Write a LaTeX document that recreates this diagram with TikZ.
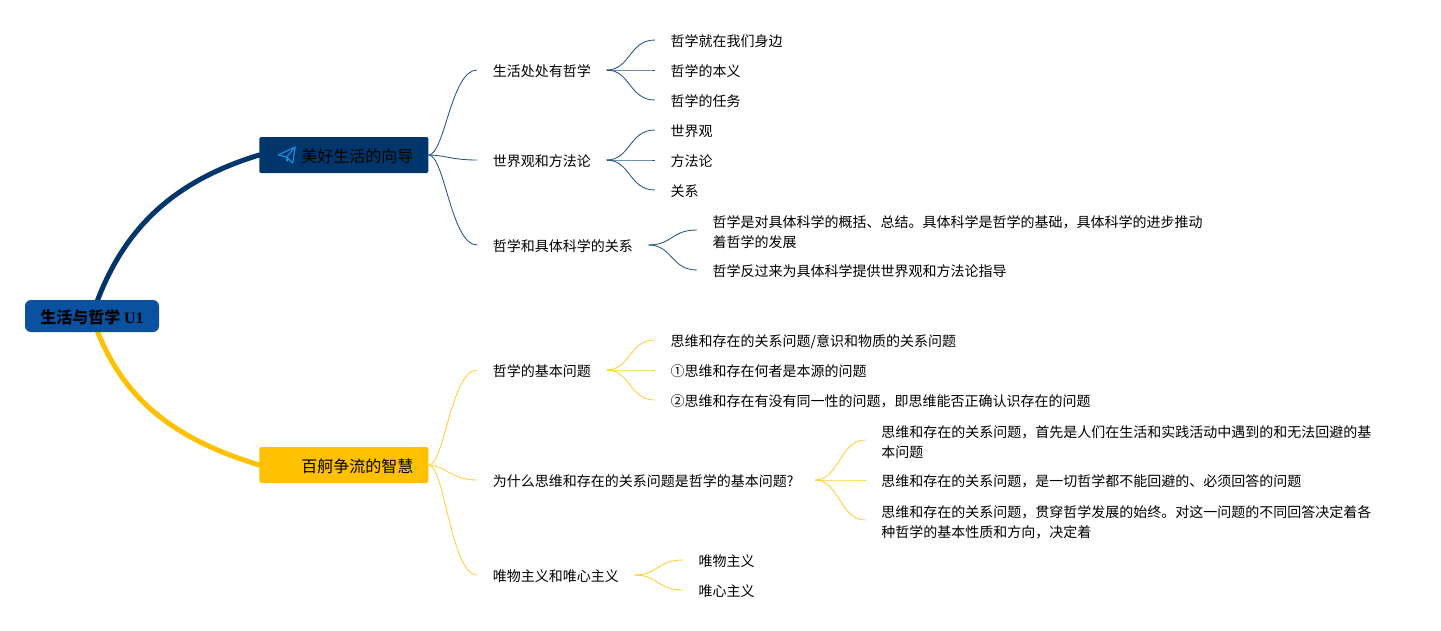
\documentclass[tikz,border=0pt]{standalone}
\usepackage{fontspec}
\setmainfont{Noto Sans CJK SC}
\newfontfamily\latinfont{Liberation Serif}
\usetikzlibrary{positioning,backgrounds}

\definecolor{rootblue}{HTML}{0A52A0}
\definecolor{navy}{HTML}{00366B}
\definecolor{gold}{HTML}{FFC000}
\definecolor{thinnavy}{HTML}{245482}
\definecolor{thingold}{HTML}{FFCE3A}
\definecolor{planeblue}{HTML}{1E88D8}

\tikzset{
	rootbox/.style={fill=rootblue,rounded corners=6pt,minimum width=134pt,minimum height=32pt,inner sep=0pt,font=\fontsize{16}{20}\selectfont\bfseries,execute at begin node={\rule{0pt}{16.5pt}}},
	mainbox/.style={rounded corners=1.5pt,minimum height=36pt,text width=139pt,align=right,inner xsep=15pt,inner ysep=0pt,font=\fontsize{16}{20}\selectfont,execute at begin node={\rule{0pt}{16.5pt}}},
	topic/.style={inner xsep=15.5pt,inner ysep=0pt,align=left,font=\fontsize{14}{20}\selectfont,execute at begin node={\rule[-3pt]{0pt}{19.1pt}}},
	long topic/.style={topic,execute at begin node={}},
	thick branch/.style={line width=5pt,line cap=round},
	thin branch/.style={line width=.85pt,to path={.. controls +(#1,0pt) and +(-26pt,0pt) .. (\tikztotarget)}},
	thin branch/.default=24pt
}

\begin{document}
\begin{tikzpicture}[node distance=48.5pt]
	\useasboundingbox (0pt,0pt) rectangle (1441pt,-630pt);

	\node[rootbox] (root) at (92pt,-316pt) {生活与哲学 {\latinfont U1}};
	\node[mainbox,fill=navy] (life) [right=100pt of root,yshift=161pt] {美好生活的向导};
	\node[mainbox,fill=gold] (wisdom) [right=100pt of root,yshift=-149pt] {百舸争流的智慧};

	\node[topic] (everywhere) [right=of life,yshift=85pt] {生活处处有哲学};
	\node[topic] (worldview) [right=of life,yshift=-5pt] {世界观和方法论};
	\node[topic] (science) [right=of life,yshift=-90pt] {哲学和具体科学的关系};

	\node[topic] (nearby) [right=of everywhere,yshift=30pt] {哲学就在我们身边};
	\node[topic] (meaning) [right=of everywhere] {哲学的本义};
	\node[topic] (task) [right=of everywhere,yshift=-30pt] {哲学的任务};

	\node[topic] (view) [right=of worldview,yshift=30pt] {世界观};
	\node[topic] (method) [right=of worldview] {方法论};
	\node[topic] (relation) [right=of worldview,yshift=-30pt] {关系};

	% two line topics sit 3pt below their connector
	\node[long topic] (summary) [right=of science,yshift=12pt] {哲学是对具体科学的概括、总结。具体科学是哲学的基础，具体科学的进步推动\\着哲学的发展};
	\node[topic] (guide) [right=of science,yshift=-25pt] {哲学反过来为具体科学提供世界观和方法论指导};

	\node[topic] (basic) [right=of wisdom,yshift=95pt] {哲学的基本问题};
	\node[topic] (why) [right=of wisdom,yshift=-15pt] {为什么思维和存在的关系问题是哲学的基本问题?\hspace{6pt}};
	\node[topic] (isms) [right=of wisdom,yshift=-110pt] {唯物主义和唯心主义};

	\node[topic] (basic a) [right=of basic,yshift=30pt] {思维和存在的关系问题/意识和物质的关系问题};
	\node[topic] (basic b) [right=of basic] {①思维和存在何者是本源的问题};
	\node[topic] (basic c) [right=of basic,yshift=-30pt] {②思维和存在有没有同一性的问题，即思维能否正确认识存在的问题};

	\node[long topic] (why a) [right=50.5pt of why,yshift=37pt] {思维和存在的关系问题，首先是人们在生活和实践活动中遇到的和无法回避的基\\本问题};
	\node[topic] (why b) [right=50.5pt of why] {思维和存在的关系问题，是一切哲学都不能回避的、必须回答的问题};
	\node[long topic] (why c) [right=50.5pt of why,yshift=-43pt] {思维和存在的关系问题，贯穿哲学发展的始终。对这一问题的不同回答决定着各\\种哲学的基本性质和方向，决定着};

	\node[topic] (material) [right=of isms,yshift=15pt] {唯物主义};
	\node[topic] (ideal) [right=of isms,yshift=-15pt] {唯心主义};

	% main branches sit behind the root box
	\begin{scope}[on background layer]
		\draw[thick branch,navy] (root.center) to[out=72,in=197] (life.west);
		\draw[thick branch,gold] (root.center) to[out=-72,in=163] (wisdom.west);
	\end{scope}

	% paper plane
	\coordinate (plane) at ([xshift=19pt]life.west);
	\draw[planeblue,line width=1.2pt,line join=round]
		(plane) -- ++(17pt,8pt) -- ++(-2.5pt,-16pt) -- ++(-6pt,6pt) -- cycle
		++(17pt,8pt) -- ++(-8.5pt,-10pt) -- ++(0pt,-4pt) -- ++(2.5pt,2.5pt);

	\path[thin branch=16pt,thinnavy]
	(life.east) edge (everywhere.west)
	            edge (worldview.west)
	            edge (science.west);

	\path[thin branch,thinnavy]
	(everywhere.east) edge (nearby.west)
	                  edge (meaning.west)
	                  edge (task.west)

	(worldview.east) edge (view.west)
	                 edge (method.west)
	                 edge (relation.west)

	(science.east) edge ([yshift=3pt]summary.west)
	               edge (guide.west);

	\path[thin branch=16pt,thingold]
	(wisdom.east) edge (basic.west)
	              edge (why.west)
	              edge (isms.west);

	\path[thin branch,thingold]
	(basic.east) edge (basic a.west)
	             edge (basic b.west)
	             edge (basic c.west)

	(why.east) edge ([yshift=3pt]why a.west)
	           edge (why b.west)
	           edge ([yshift=3pt]why c.west)

	(isms.east) edge (material.west)
	            edge (ideal.west);

\end{tikzpicture}
\end{document}
